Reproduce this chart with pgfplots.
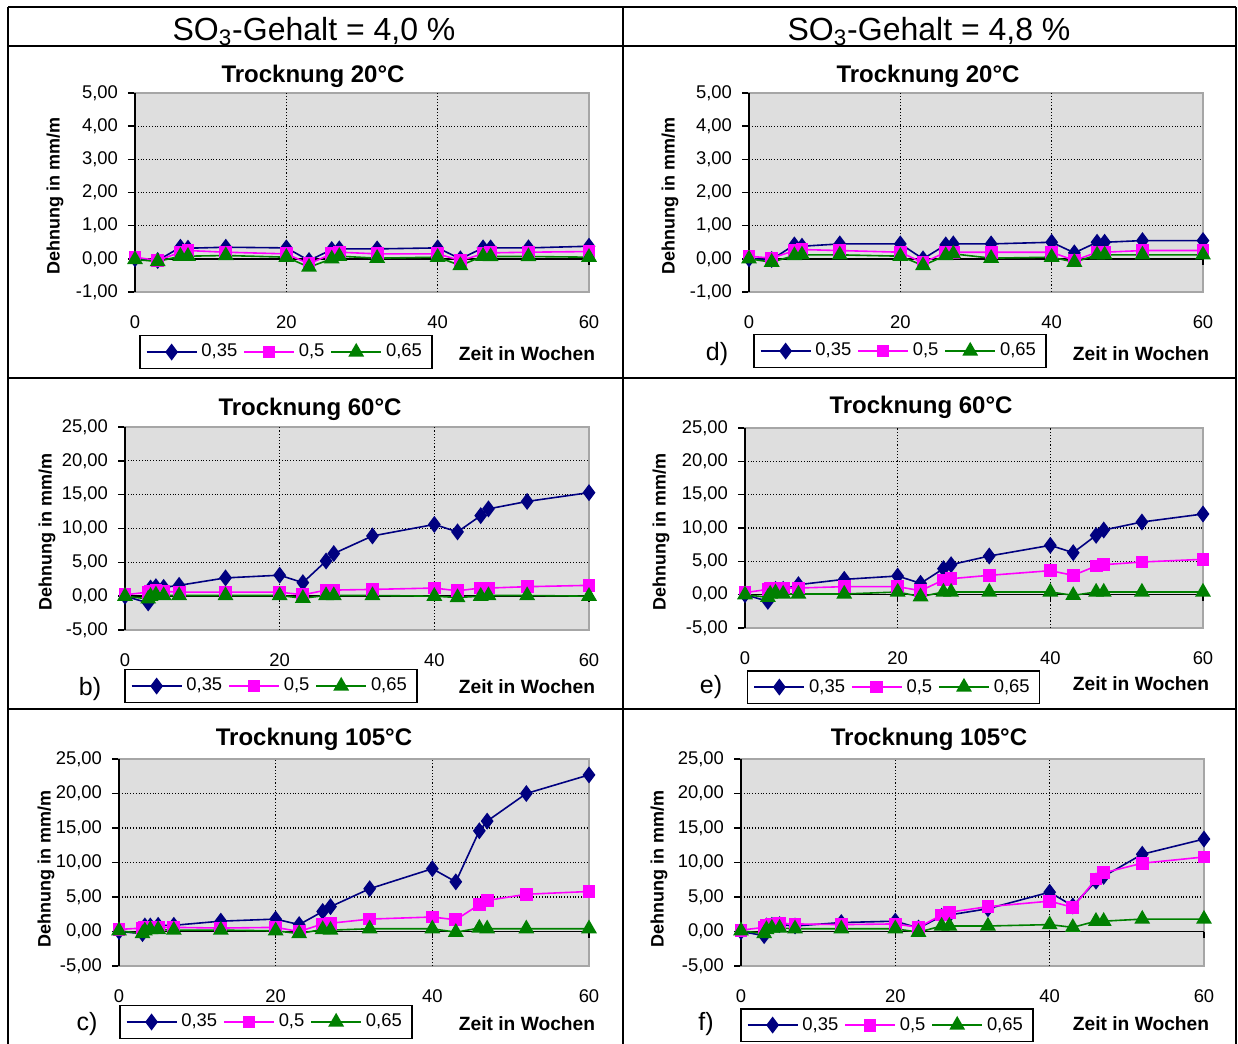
\documentclass[border=0pt]{standalone}
\usepackage{fontspec}
\setmainfont{Liberation Sans}
\usepackage{pgfplots}
\pgfplotsset{compat=1.18}
\definecolor{navyc}{RGB}{0,0,128}
\definecolor{magc}{RGB}{255,0,255}
\definecolor{grnc}{RGB}{0,128,0}
\definecolor{plotbg}{RGB}{222,222,222}
\pgfplotsset{
  panel/.style={
    scale only axis,
    xmin=0, xmax=60,
    xtick={0,20,40,60},
    axis background/.style={fill=plotbg},
    axis line style={draw=gray!70, line width=0.6pt},
    tick align=outside,
    ytick pos=left,
    xtick pos=bottom,
    xtick style={draw=none},
    ytick style={black, line width=0.75pt},
    major tick length=3.5pt,
    ymajorgrids,
    major grid style={black, densely dotted, line width=0.6pt},
    tick label style={font=\fontsize{9.2}{10}\selectfont},
    /pgf/number format/assume math mode=true,
    y tick label style={/pgf/number format/fixed, /pgf/number format/fixed zerofill, /pgf/number format/precision=2, /pgf/number format/use comma, xshift=-1.5pt},
    x tick label style={yshift=-5pt},
    legend columns=3,
    legend style={draw=black, line width=0.75pt, font=\fontsize{9.2}{10}\selectfont, anchor=north west, inner xsep=3pt, inner ysep=2.2pt, /tikz/every even column/.append style={column sep=1pt}},
    legend cell align=left,
    legend image code/.code={\draw[mark repeat=2,mark phase=2,#1] plot coordinates {(0pt,0pt) (12.5pt,0pt) (25pt,0pt)};},
    clip=false,
  },
  smallp/.style={ymin=-1, ymax=5, ytick={-1,0,1,2,3,4,5}},
  bigp/.style={ymin=-5, ymax=25, ytick={-5,0,5,10,15,20,25}},
  sA/.style={navyc, line width=0.8pt, mark=diamond*, mark size=3.6pt, mark options={solid, fill=navyc}},
  sB/.style={magc, line width=0.8pt, mark=square*, mark size=2.8pt, mark options={solid, fill=magc}},
  sC/.style={grnc, line width=0.8pt, mark=triangle*, mark size=3.8pt, mark options={solid, fill=grnc}},
}
\newcommand{\axisdeco}{%
  \draw[black, densely dotted, line width=0.6pt] (axis cs:20,\pgfkeysvalueof{/pgfplots/ymin}) -- (axis cs:20,\pgfkeysvalueof{/pgfplots/ymax});
  \draw[black, densely dotted, line width=0.6pt] (axis cs:40,\pgfkeysvalueof{/pgfplots/ymin}) -- (axis cs:40,\pgfkeysvalueof{/pgfplots/ymax});
  \draw[black, line width=0.8pt] (rel axis cs:0,0) -- (rel axis cs:0,1);
  \draw[black, line width=0.8pt] (axis cs:0,0) -- (axis cs:60,0);
  \draw[black, line width=0.6pt] (axis cs:20,0) -- ([yshift=-3pt]axis cs:20,0);
  \draw[black, line width=0.6pt] (axis cs:40,0) -- ([yshift=-3pt]axis cs:40,0);
  \draw[black, line width=0.6pt] (axis cs:60,0) -- ([yshift=-3pt]axis cs:60,0);
}
\begin{document}
\begin{tikzpicture}
\useasboundingbox (0,0) rectangle (619pt,-522pt);
\fill[white] (0,0) rectangle (619pt,-522pt);
\begin{scope}[x=0.5pt,y=-0.5pt]
  % table frame
  \draw[black, line width=1pt] (8,7) -- (1236,7);
  \draw[black, line width=1pt] (8,46) -- (1236,46);
  \draw[black, line width=1pt] (8,378) -- (1236,378);
  \draw[black, line width=1pt] (8,709) -- (1236,709);
  \draw[black, line width=1pt] (8,7) -- (8,1044);
  \draw[black, line width=1pt] (623,7) -- (623,1044);
  \draw[black, line width=1pt] (1236,7) -- (1236,1044);
  % headers
  \node[anchor=base, inner sep=0pt, font=\fontsize{16}{18}\selectfont] at (314,40) {SO\textsubscript{3}-Gehalt = 4,0 \%};
  \node[anchor=base, inner sep=0pt, font=\fontsize{16}{18}\selectfont] at (929,40) {SO\textsubscript{3}-Gehalt = 4,8 \%};
  % titles
  \node[anchor=base, inner sep=0pt, font=\bfseries\fontsize{12}{14}\selectfont] at (313,83) {Trocknung 20°C};
  \node[anchor=base, inner sep=0pt, font=\bfseries\fontsize{12}{14}\selectfont] at (928,83) {Trocknung 20°C};
  \node[anchor=base, inner sep=0pt, font=\bfseries\fontsize{12}{14}\selectfont] at (310,415) {Trocknung 60°C};
  \node[anchor=base, inner sep=0pt, font=\bfseries\fontsize{12}{14}\selectfont] at (921,413) {Trocknung 60°C};
  \node[anchor=base, inner sep=0pt, font=\bfseries\fontsize{12}{14}\selectfont] at (314,745) {Trocknung 105°C};
  \node[anchor=base, inner sep=0pt, font=\bfseries\fontsize{12}{14}\selectfont] at (929,745) {Trocknung 105°C};
  % y labels
  \node[rotate=90, inner sep=0pt, font=\bfseries\fontsize{9}{10}\selectfont] at (55,196) {Dehnung in mm/m};
  \node[rotate=90, inner sep=0pt, font=\bfseries\fontsize{9}{10}\selectfont] at (670,196) {Dehnung in mm/m};
  \node[rotate=90, inner sep=0pt, font=\bfseries\fontsize{9}{10}\selectfont] at (47,532) {Dehnung in mm/m};
  \node[rotate=90, inner sep=0pt, font=\bfseries\fontsize{9}{10}\selectfont] at (661,532) {Dehnung in mm/m};
  \node[rotate=90, inner sep=0pt, font=\bfseries\fontsize{9}{10}\selectfont] at (46,869) {Dehnung in mm/m};
  \node[rotate=90, inner sep=0pt, font=\bfseries\fontsize{9}{10}\selectfont] at (659,869) {Dehnung in mm/m};
  % x labels
  \node[anchor=base, inner sep=0pt, font=\bfseries\fontsize{9.6}{11}\selectfont] at (527,360) {Zeit in Wochen};
  \node[anchor=base, inner sep=0pt, font=\bfseries\fontsize{9.6}{11}\selectfont] at (1141,360) {Zeit in Wochen};
  \node[anchor=base, inner sep=0pt, font=\bfseries\fontsize{9.6}{11}\selectfont] at (527,693) {Zeit in Wochen};
  \node[anchor=base, inner sep=0pt, font=\bfseries\fontsize{9.6}{11}\selectfont] at (1141,690) {Zeit in Wochen};
  \node[anchor=base, inner sep=0pt, font=\bfseries\fontsize{9.6}{11}\selectfont] at (527,1030) {Zeit in Wochen};
  \node[anchor=base, inner sep=0pt, font=\bfseries\fontsize{9.6}{11}\selectfont] at (1141,1030) {Zeit in Wochen};
  % panel letters
  \node[anchor=base, inner sep=0pt, font=\fontsize{12.5}{14}\selectfont] at (717,360) {d)};
  \node[anchor=base, inner sep=0pt, font=\fontsize{12.5}{14}\selectfont] at (90,695) {b)};
  \node[anchor=base, inner sep=0pt, font=\fontsize{12.5}{14}\selectfont] at (711,693) {e)};
  \node[anchor=base, inner sep=0pt, font=\fontsize{12.5}{14}\selectfont] at (87,1030) {c)};
  \node[anchor=base, inner sep=0pt, font=\fontsize{12.5}{14}\selectfont] at (706,1030) {f)};
\end{scope}

% ---------- a) 20 C, 4,0 %
\begin{axis}[panel, smallp, at={(67.5pt,-146pt)}, anchor=south west, width=227pt, height=99.5pt,
  legend style={at={(0.009,-0.216)}}]
\axisdeco
\addplot[sA] coordinates {(0,0) (3,-0.05) (6,0.35) (7,0.32) (12,0.35) (20,0.33) (23,-0.05) (26,0.28) (27,0.3) (32,0.3) (40,0.33) (43,0.0) (46,0.33) (47,0.33) (52,0.33) (60,0.38)};
\addplot[sB] coordinates {(0,0.05) (3,-0.05) (6,0.2) (7,0.25) (12,0.2) (20,0.15) (23,-0.15) (26,0.15) (27,0.2) (32,0.15) (40,0.15) (43,-0.05) (46,0.15) (47,0.18) (52,0.2) (60,0.22)};
\addplot[sC] coordinates {(0,-0.02) (3,-0.08) (6,0.08) (7,0.08) (12,0.1) (20,0.05) (23,-0.25) (26,0.0) (27,0.08) (32,0.02) (40,0.05) (43,-0.2) (46,0.08) (47,0.07) (52,0.07) (60,0.05)};
\legend{{0,35},{0,5},{0,65}}
\end{axis}

% ---------- d) 20 C, 4,8 %
\begin{axis}[panel, smallp, at={(374.5pt,-146pt)}, anchor=south west, width=227pt, height=99.5pt,
  legend style={at={(0.009,-0.211)}}]
\axisdeco
\addplot[sA] coordinates {(0,0) (3,-0.02) (6,0.42) (7,0.38) (12,0.45) (20,0.45) (23,0.0) (26,0.42) (27,0.45) (32,0.45) (40,0.5) (43,0.18) (46,0.5) (47,0.5) (52,0.55) (60,0.55)};
\addplot[sB] coordinates {(0,0.08) (3,0.02) (6,0.25) (7,0.28) (12,0.25) (20,0.2) (23,-0.12) (26,0.2) (27,0.2) (32,0.2) (40,0.2) (43,-0.05) (46,0.2) (47,0.2) (52,0.25) (60,0.25)};
\addplot[sC] coordinates {(0,0.0) (3,-0.1) (6,0.1) (7,0.12) (12,0.12) (20,0.08) (23,-0.2) (26,0.1) (27,0.15) (32,0.02) (40,0.05) (43,-0.1) (46,0.12) (47,0.12) (52,0.12) (60,0.12)};
\legend{{0,35},{0,5},{0,65}}
\end{axis}

% ---------- b) 60 C, 4,0 %
\begin{axis}[panel, bigp, at={(62.5pt,-315pt)}, anchor=south west, width=232pt, height=101.5pt,
  legend style={at={(-0.002,-0.192)}}]
\axisdeco
\addplot[sA] coordinates {(0,0) (3,-1.0) (3.3,1.2) (4,1.4) (5,1.3) (7,1.6) (13,2.7) (20,3.1) (23,2.0) (26,5.2) (27,6.3) (32,8.9) (40,10.6) (43,9.5) (46,11.9) (47,12.9) (52,14.0) (60,15.3)};
\addplot[sB] coordinates {(0,0.2) (3,0.6) (3.3,0.7) (4,0.8) (5,0.7) (7,0.6) (13,0.6) (20,0.6) (23,0.2) (26,0.9) (27,0.9) (32,1.0) (40,1.2) (43,0.8) (46,1.2) (47,1.2) (52,1.4) (60,1.6)};
\addplot[sC] coordinates {(0,0) (3,-0.4) (3.3,0.0) (4,0.2) (5,0.1) (7,0.1) (13,0.1) (20,0.1) (23,-0.3) (26,0.1) (27,0.1) (32,0.1) (40,0.0) (43,-0.2) (46,0.0) (47,0.1) (52,0.1) (60,0.0)};
\legend{{0,35},{0,5},{0,65}}
\end{axis}

% ---------- e) 60 C, 4,8 %
\begin{axis}[panel, bigp, at={(372.5pt,-314pt)}, anchor=south west, width=229pt, height=100pt,
  legend style={at={(0.004,-0.21)}}]
\axisdeco
\addplot[sA] coordinates {(0,0) (3,-1.0) (3.3,0.6) (4,0.8) (5,0.8) (7,1.5) (13,2.3) (20,2.8) (23,1.7) (26,3.9) (27,4.5) (32,5.8) (40,7.4) (43,6.3) (46,8.9) (47,9.7) (52,10.9) (60,12.1)};
\addplot[sB] coordinates {(0,0.3) (3,0.8) (3.3,1.0) (4,1.0) (5,1.0) (7,1.0) (13,1.2) (20,1.2) (23,0.6) (26,2.2) (27,2.4) (32,2.9) (40,3.6) (43,2.9) (46,4.3) (47,4.5) (52,4.9) (60,5.3)};
\addplot[sC] coordinates {(0,0) (3,-0.4) (3.3,0.1) (4,0.3) (5,0.1) (7,0.1) (13,0.1) (20,0.4) (23,-0.3) (26,0.4) (27,0.4) (32,0.4) (40,0.4) (43,-0.1) (46,0.4) (47,0.4) (52,0.4) (60,0.4)};
\legend{{0,35},{0,5},{0,65}}
\end{axis}

% ---------- c) 105 C, 4,0 %
\begin{axis}[panel, bigp, at={(59.5pt,-483pt)}, anchor=south west, width=235pt, height=103.5pt,
  legend style={at={(0,-0.188)}}]
\axisdeco
\addplot[sA] coordinates {(0,0) (3,-0.3) (3.3,0.8) (4,0.8) (5,0.9) (7,0.9) (13,1.5) (20,1.8) (23,1.0) (26,2.9) (27,3.6) (32,6.2) (40,9.1) (43,7.2) (46,14.6) (47,16.0) (52,20.0) (60,22.7)};
\addplot[sB] coordinates {(0,0.3) (3,0.5) (3.3,0.6) (4,0.6) (5,0.6) (7,0.6) (13,0.5) (20,0.6) (23,0.0) (26,1.1) (27,1.2) (32,1.8) (40,2.1) (43,1.7) (46,3.9) (47,4.5) (52,5.4) (60,5.8)};
\addplot[sC] coordinates {(0,0.1) (3,-0.3) (3.3,0.1) (4,0.3) (5,0.3) (7,0.2) (13,0.2) (20,0.1) (23,-0.3) (26,0.3) (27,0.2) (32,0.4) (40,0.4) (43,-0.1) (46,0.5) (47,0.4) (52,0.4) (60,0.4)};
\legend{{0,35},{0,5},{0,65}}
\end{axis}

% ---------- f) 105 C, 4,8 %
\begin{axis}[panel, bigp, at={(370.5pt,-483pt)}, anchor=south west, width=231.5pt, height=103.5pt,
  legend style={at={(-0.002,-0.203)}}]
\axisdeco
\addplot[sA] coordinates {(0,0) (3,-0.6) (3.3,0.8) (4,0.9) (5,1.0) (7,0.8) (13,1.3) (20,1.5) (23,0.5) (26,2.2) (27,2.4) (32,3.3) (40,5.7) (43,3.7) (46,7.3) (47,8.0) (52,11.2) (60,13.4)};
\addplot[sB] coordinates {(0,0.2) (3,0.6) (3.3,0.9) (4,1.1) (5,1.2) (7,1.1) (13,1.0) (20,1.1) (23,0.6) (26,2.4) (27,2.8) (32,3.6) (40,4.4) (43,3.5) (46,7.6) (47,8.5) (52,9.9) (60,10.8)};
\addplot[sC] coordinates {(0,0.1) (3,-0.3) (3.3,0.3) (4,0.5) (5,0.5) (7,0.4) (13,0.4) (20,0.4) (23,-0.1) (26,0.8) (27,0.8) (32,0.8) (40,1.0) (43,0.6) (46,1.5) (47,1.5) (52,1.8) (60,1.8)};
\legend{{0,35},{0,5},{0,65}}
\end{axis}
\end{tikzpicture}
\end{document}
